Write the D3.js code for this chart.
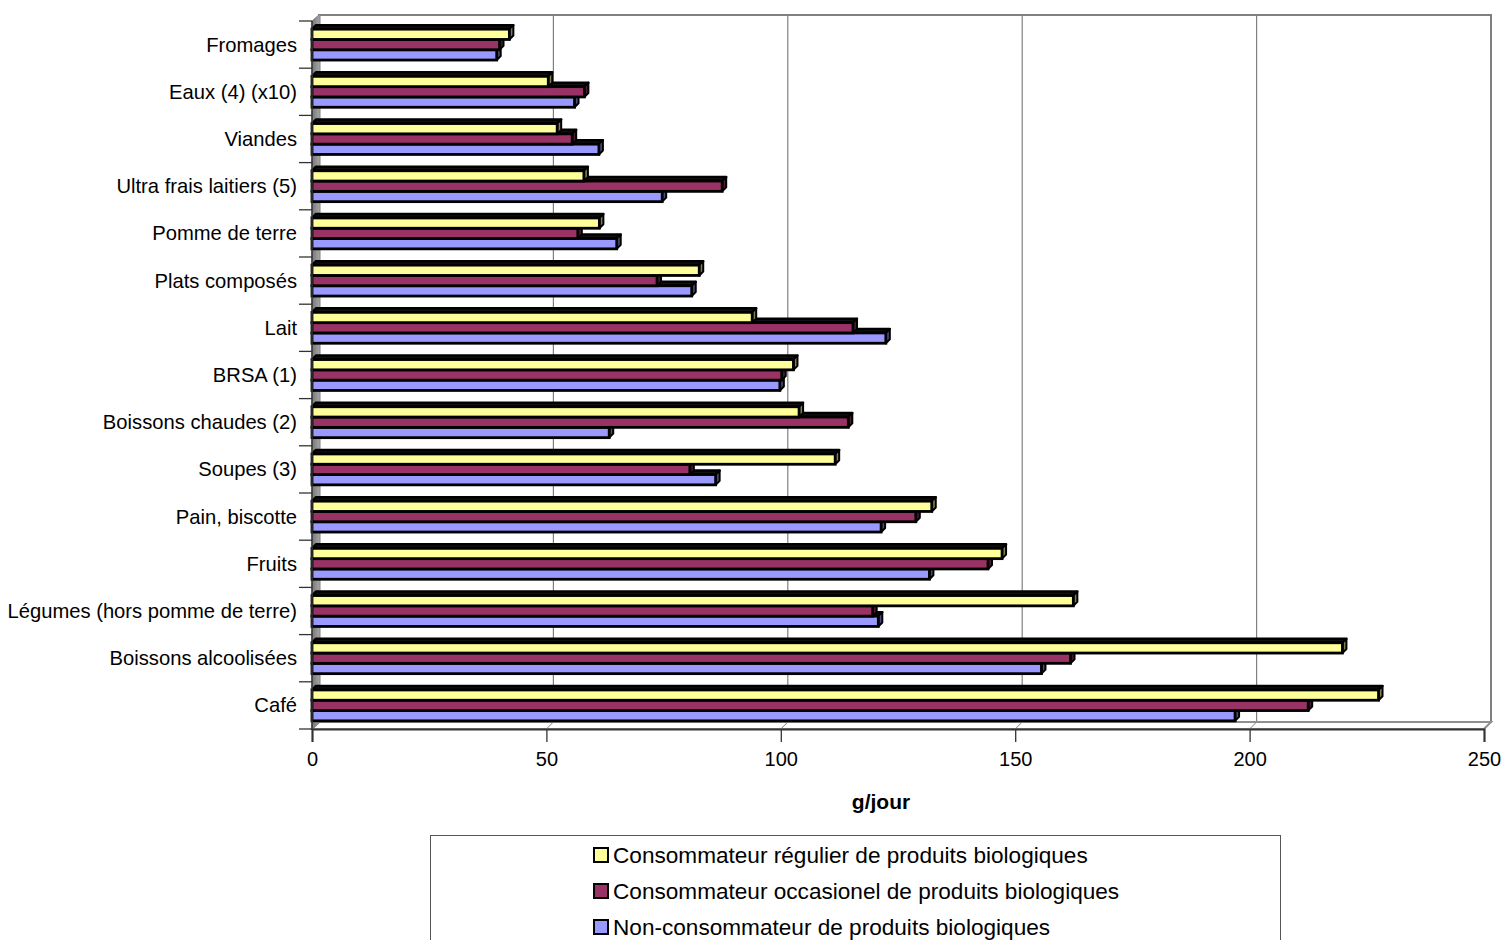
<!DOCTYPE html>
<html>
<head>
<meta charset="utf-8">
<script src="https://cdn.jsdelivr.net/npm/d3@7"></script>
<style>
  body { margin: 0; background: #fff; }
  svg text { font-family: 'Liberation Sans', Arial, sans-serif; }
</style>
</head>
<body>
<div id="chart"></div>
<script>
const categories = ['Fromages', 'Eaux (4) (x10)', 'Viandes', 'Ultra frais laitiers (5)', 'Pomme de terre',
  'Plats composés', 'Lait', 'BRSA (1)', 'Boissons chaudes (2)', 'Soupes (3)', 'Pain, biscotte',
  'Fruits', 'Légumes (hors pomme de terre)', 'Boissons alcoolisées', 'Café']
const seriesNames = ['Consommateur régulier de produits biologiques',
  'Consommateur occasionel de produits biologiques',
  'Non-consommateur de produits biologiques']
const regulier = [42.1, 50.4, 52.3, 58.0, 61.3, 82.6, 93.9, 102.7, 103.9, 111.6, 132.2, 147.2, 162.4, 219.8, 227.5]
const occasionel = [40.0, 58.1, 55.5, 87.5, 56.7, 73.6, 115.4, 100.2, 114.4, 80.6, 128.8, 144.2, 119.6, 161.8, 212.5]
const nonConso = [39.4, 56.0, 61.2, 74.7, 65.0, 81.0, 122.4, 99.8, 63.4, 86.1, 121.4, 131.7, 120.8, 155.6, 196.9]
const xTicks = [0, 50, 100, 150, 200, 250]
const colors = ['#FFFF99', '#993366', '#9999FF']
const sideColors = ['#80804c', '#4c1933', '#4c4c80']

const W = 1503, H = 940
const plotLeft = 312, plotRight = 1484, plotTop = 21, plotBottom = 729
const depth = 7   // back wall offset
const bd = 4      // bar depth offset
const barH = 10.3

let svg = d3.select('#chart').append('svg').attr('width', W).attr('height', H)

let x = d3.scaleLinear().domain([0, 250]).range([plotLeft, plotRight])
let y = d3.scaleBand().domain(categories).range([plotTop, plotBottom])
let ys = d3.scaleBand().domain(seriesNames).range([0, barH * 3])
let values = [regulier, occasionel, nonConso]

// back wall
svg.append('rect')
  .attr('x', plotLeft + depth).attr('y', plotTop - depth + 1)
  .attr('width', plotRight - plotLeft).attr('height', plotBottom - plotTop - 1)
  .style('fill', '#fff').style('stroke', '#808080').style('stroke-width', 2)

// gridlines on back wall + floor
let g = svg.append('g')
xTicks.slice(1, -1).forEach(t => {
  g.append('line')
    .attr('x1', x(t) + depth).attr('x2', x(t) + depth)
    .attr('y1', plotTop - depth + 1).attr('y2', plotBottom - depth)
    .style('stroke', '#808080').style('stroke-width', 1.2)
  g.append('line')
    .attr('x1', x(t)).attr('x2', x(t) + depth)
    .attr('y1', plotBottom).attr('y2', plotBottom - depth)
    .style('stroke', '#808080').style('stroke-width', 1)
})

// floor
svg.append('path')
  .attr('d', `M${plotLeft},${plotBottom} L${plotLeft + depth},${plotBottom - depth} L${plotRight + depth},${plotBottom - depth} L${plotRight},${plotBottom} Z`)
  .style('fill', 'none').style('stroke', '#909090').style('stroke-width', 2)

// left wall
let grad = svg.append('defs').append('linearGradient').attr('id', 'wall')
grad.append('stop').attr('offset', '0%').attr('stop-color', '#777')
grad.append('stop').attr('offset', '100%').attr('stop-color', '#a8a8a8')
svg.append('path')
  .attr('d', `M${plotLeft},${plotTop} L${plotLeft + depth + 1},${plotTop - depth} L${plotLeft + depth + 1},${plotBottom - depth} L${plotLeft},${plotBottom} Z`)
  .style('fill', 'url(#wall)').style('stroke', '#808080').style('stroke-width', 1)

// bars, drawn bottom series first so upper bars hide lower top faces
let bars = svg.append('g')
categories.forEach((cat, ci) => {
  let y0 = y(cat) + (y.bandwidth() - barH * 3) / 2
  for (let si = seriesNames.length - 1; si >= 0; si--) {
    let v = values[si][ci]
    let by = y0 + ys(seriesNames[si])
    let x0 = x(0), x1 = x(v)
    let bg = bars.append('g')
    // top face (reads as near black in the original)
    bg.append('path')
      .attr('d', `M${x0},${by} L${x0 + bd},${by - bd} L${x1 + bd},${by - bd} L${x1},${by} Z`)
      .style('fill', '#111').style('stroke', '#000').style('stroke-width', 2.5).style('stroke-linejoin', 'round')
    // right face
    bg.append('path')
      .attr('d', `M${x1},${by} L${x1 + bd},${by - bd} L${x1 + bd},${by + barH - bd} L${x1},${by + barH} Z`)
      .style('fill', sideColors[si]).style('stroke', '#000').style('stroke-width', 2).style('stroke-linejoin', 'round')
    bg.append('rect')
      .attr('x', x0).attr('y', by)
      .attr('width', x1 - x0).attr('height', barH)
      .style('fill', colors[si]).style('stroke', '#000').style('stroke-width', 2.8)
  }
})

// left axis
let ax = svg.append('g')
ax.append('line')
  .attr('x1', plotLeft).attr('x2', plotLeft).attr('y1', plotTop).attr('y2', plotBottom)
  .style('stroke', '#333').style('stroke-width', 1.5)
categories.concat([null]).forEach((cat, i) => {
  let ty = cat ? y(cat) : plotBottom
  ax.append('line')
    .attr('x1', plotLeft - 13).attr('x2', plotLeft).attr('y1', ty).attr('y2', ty)
    .style('stroke', '#333').style('stroke-width', 1.3)
})
ax.selectAll('.cat')
  .data(categories)
  .enter()
  .append('text')
  .attr('class', 'cat')
  .attr('x', 297)
  .attr('y', d => y(d) + y.bandwidth() / 2 + 7)
  .attr('text-anchor', 'end')
  .style('font-size', '20.2px')
  .style('fill', '#000')
  .text(d => d)

// bottom axis
let xaxis = svg.append('g')
  .attr('transform', `translate(0,${plotBottom})`)
  .call(d3.axisBottom(x).tickValues(xTicks).tickSize(13).tickPadding(10))
xaxis.select('.domain').style('stroke', '#333').style('stroke-width', 2)
xaxis.selectAll('.tick line').style('stroke', '#333').style('stroke-width', 1.3)
xaxis.selectAll('.tick text')
  .style('font-size', '20px')
  .style('font-family', "'Liberation Sans', Arial, sans-serif")
  .style('fill', '#000')

svg.append('text')
  .attr('x', 881).attr('y', 809)
  .attr('text-anchor', 'middle')
  .style('font-size', '21px').style('font-weight', 'bold')
  .text('g/jour')

// legend
let lg = svg.append('g')
lg.append('rect')
  .attr('x', 430.5).attr('y', 835.5).attr('width', 850).attr('height', 120)
  .style('fill', '#fff').style('stroke', '#555').style('stroke-width', 1)
seriesNames.forEach((s, i) => {
  let cy = 855 + i * 36
  lg.append('rect')
    .attr('x', 594).attr('y', cy - 7).attr('width', 14).attr('height', 14)
    .style('fill', colors[i]).style('stroke', '#000').style('stroke-width', 2)
  lg.append('text')
    .attr('x', 613).attr('y', cy + 8)
    .style('font-size', '22.6px')
    .text(s)
})
</script>
</body>
</html>
